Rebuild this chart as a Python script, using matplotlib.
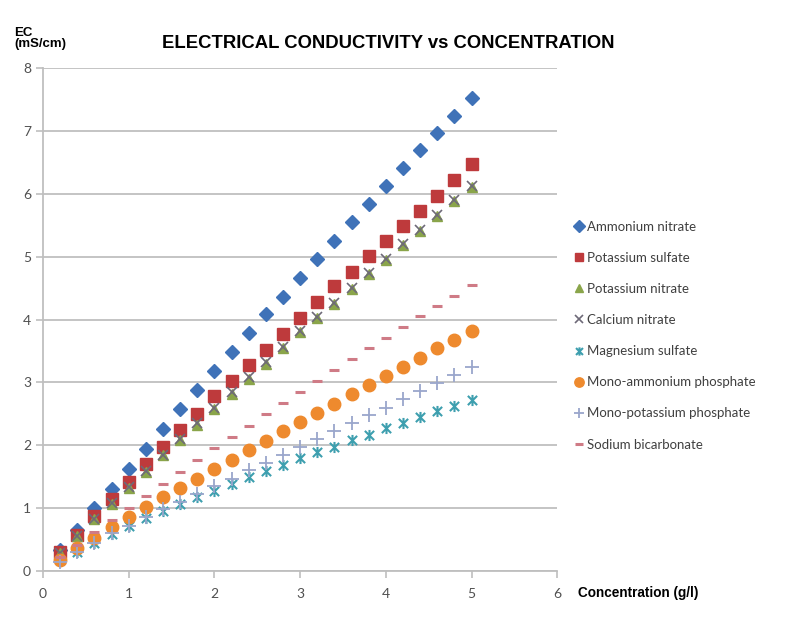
import numpy as np
import matplotlib.pyplot as plt
from matplotlib.path import Path

# concentration (g/l)
conc = [0.2, 0.4, 0.6, 0.8, 1.0, 1.2, 1.4, 1.6, 1.8, 2.0, 2.2, 2.4, 2.6,
        2.8, 3.0, 3.2, 3.4, 3.6, 3.8, 4.0, 4.2, 4.4, 4.6, 4.8, 5.0]

ammonium_nitrate = [0.33, 0.65, 1.00, 1.30, 1.62, 1.94, 2.26, 2.58, 2.88, 3.18, 3.48, 3.78, 4.08,
                    4.36, 4.66, 4.96, 5.25, 5.55, 5.83, 6.12, 6.41, 6.69, 6.96, 7.23, 7.52]
potassium_sulfate = [0.30, 0.58, 0.87, 1.15, 1.42, 1.70, 1.97, 2.24, 2.50, 2.78, 3.03, 3.28, 3.52,
                     3.77, 4.03, 4.28, 4.53, 4.76, 5.01, 5.25, 5.49, 5.73, 5.97, 6.22, 6.47]
potassium_nitrate = [0.28, 0.55, 0.82, 1.07, 1.32, 1.58, 1.84, 2.08, 2.33, 2.58, 2.82, 3.06, 3.30,
                     3.55, 3.80, 4.02, 4.25, 4.48, 4.72, 4.95, 5.18, 5.41, 5.64, 5.88, 6.10]
calcium_nitrate = [0.29, 0.56, 0.83, 1.08, 1.33, 1.59, 1.85, 2.10, 2.35, 2.60, 2.84, 3.08, 3.32,
                   3.57, 3.82, 4.04, 4.27, 4.50, 4.74, 4.97, 5.20, 5.43, 5.66, 5.90, 6.13]
magnesium_sulfate = [0.17, 0.31, 0.45, 0.59, 0.72, 0.84, 0.96, 1.07, 1.18, 1.28, 1.39, 1.49, 1.59,
                     1.69, 1.80, 1.89, 1.98, 2.08, 2.17, 2.27, 2.36, 2.45, 2.54, 2.63, 2.72]
mono_ammonium_phosphate = [0.18, 0.37, 0.53, 0.70, 0.86, 1.02, 1.17, 1.32, 1.47, 1.62, 1.77, 1.92, 2.07,
                           2.22, 2.37, 2.52, 2.66, 2.81, 2.96, 3.10, 3.25, 3.39, 3.54, 3.68, 3.82]
mono_potassium_phosphate = [0.15, 0.30, 0.45, 0.60, 0.72, 0.86, 0.99, 1.10, 1.22, 1.35, 1.47, 1.60, 1.72,
                            1.85, 1.98, 2.10, 2.23, 2.35, 2.48, 2.60, 2.73, 2.86, 2.99, 3.12, 3.25]
sodium_bicarbonate = [0.22, 0.42, 0.62, 0.81, 1.01, 1.20, 1.39, 1.57, 1.76, 1.95, 2.13, 2.31, 2.49,
                      2.67, 2.85, 3.03, 3.20, 3.37, 3.54, 3.71, 3.88, 4.05, 4.21, 4.38, 4.55]

x_ticks = [0, 1, 2, 3, 4, 5, 6]
y_ticks = [0, 1, 2, 3, 4, 5, 6, 7, 8]

# excel style "star" marker: x with a vertical bar
star = Path([(-1, -1), (1, 1), (-1, 1), (1, -1), (0, -1.2), (0, 1.2)],
            [Path.MOVETO, Path.LINETO, Path.MOVETO, Path.LINETO, Path.MOVETO, Path.LINETO])

series = [
    ("Ammonium nitrate", ammonium_nitrate, dict(marker="D", color="#3F72B8", ms=7.5)),
    ("Potassium sulfate", potassium_sulfate, dict(marker="s", color="#BE3A3C", ms=8)),
    ("Potassium nitrate", potassium_nitrate, dict(marker="^", color="#8AA54A", ms=7.5)),
    ("Calcium nitrate", calcium_nitrate, dict(marker="x", color="#6E6A78", ms=7, mew=1.2)),
    ("Magnesium sulfate", magnesium_sulfate, dict(marker=star, color="#3E9FAF", ms=8, mew=1.5)),
    ("Mono-ammonium phosphate", mono_ammonium_phosphate, dict(marker="o", color="#EE8A2E", ms=9)),
    ("Mono-potassium phosphate", mono_potassium_phosphate, dict(marker="+", color="#9AA6CC", ms=10, mew=1.3)),
    ("Sodium bicarbonate", sodium_bicarbonate, dict(marker="_", color="#CF7B86", ms=7, mew=2.2)),
]

plt.rcParams['font.family'] = ['Lato', 'DejaVu Sans']

fig = plt.figure(figsize=(7.95, 6.18), dpi=100)
ax = fig.add_axes([0.054, 0.076, 0.647, 0.814])

for name, vals, style in series:
    ax.plot(conc, vals, linestyle="none", label=name, **style)

ax.set_xlim(0, 6)
ax.set_ylim(0, 8)
ax.set_xticks(x_ticks)
ax.set_yticks(y_ticks)
ax.yaxis.grid(True, color="#BFBFBF", linewidth=1.3)
ax.set_axisbelow(True)
for side in ["top", "right"]:
    ax.spines[side].set_visible(False)
for side in ["left", "bottom"]:
    ax.spines[side].set_color("#BFBFBF")
    ax.spines[side].set_linewidth(1.3)
ax.tick_params(axis="both", colors="#BFBFBF", length=5, width=1.2, labelsize=10, labelcolor="#505050")
ax.tick_params(axis="x", pad=7)

fig.text(0.488, 0.93, "ELECTRICAL CONDUCTIVITY vs CONCENTRATION", ha="center", va="center",
         fontsize=13.3, fontweight="bold", family="Liberation Sans")
fig.text(0.018, 0.938, "EC\n(mS/cm)", ha="left", va="center", fontsize=9.5,
         fontweight="bold", family="Liberation Sans", linespacing=0.95)
fig.text(0.727, 0.041, "Concentration (g/l)", ha="left", va="center", fontsize=9.8,
         fontweight="bold", family="Liberation Sans")

leg = ax.legend(loc="center left", bbox_to_anchor=(1.012, 0.468), frameon=False, fontsize=9.5,
                handlelength=0.6, handletextpad=0.3, labelspacing=1.45, markerscale=0.75)
for t in leg.get_texts():
    t.set_color("#404040")

fig.savefig("out.png", dpi=100)
